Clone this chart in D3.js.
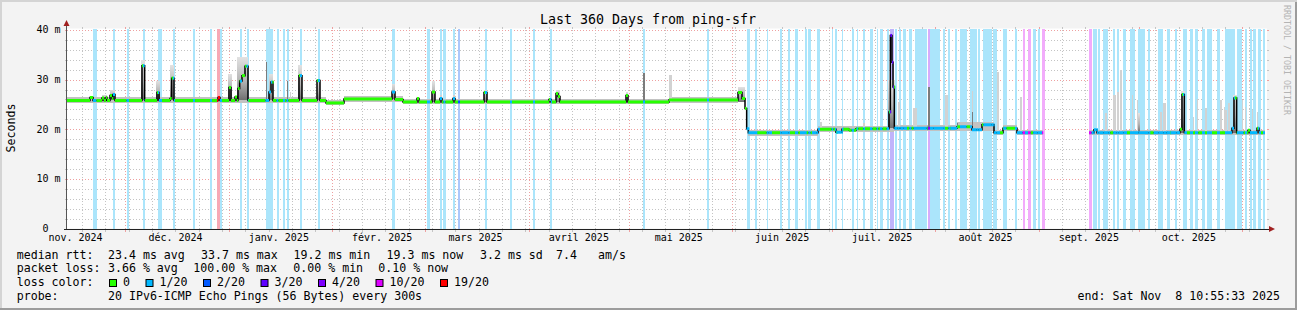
<!DOCTYPE html>
<html>
<head>
<meta charset="utf-8">
<script src="https://cdn.jsdelivr.net/npm/d3@7"></script>
<style>
  body { margin: 0; background: #f3f3f3; }
  text { font-family: "DejaVu Sans Mono", monospace; fill: #000; white-space: pre; }
</style>
</head>
<body>
<svg id="chart" width="1297" height="310"></svg>
<script>
// ---- data (days counted from the graph start, 360 days before "end") ----
const endTime = new Date(Date.UTC(2025, 10, 8, 10, 55, 33));
const spanDays = 360;

const monthNames = ["janv.", "févr.", "mars", "avril", "mai", "juin", "juil.", "août", "sept.", "oct.", "nov.", "déc."];
const yTicks = [0, 10, 20, 30, 40];
const yTickLabels = ["0  ", "10 m", "20 m", "30 m", "40 m"];

// median rtt as steps: [day, ms] -> value holds until next day; null = no data
const medianSteps = [
  [0, 25.8], [6.9, 26.4], [7.8, 25.8], [10.5, 26.3], [11.1, 25.8], [11.7, 26.4], [12.0, 25.8],
  [12.9, 26.8], [13.5, 26.2], [13.8, 27.0], [14.4, 25.8], [22.5, 32.8], [23.3, 25.8],
  [27.0, 27.4], [27.6, 25.8], [30.9, 26.2], [31.4, 30.3], [32.1, 25.8], [45.3, 26.4], [45.9, 25.8],
  [48.6, 28.4], [49.2, 25.8], [50.4, 26.5], [51.0, 25.8], [51.3, 28.2], [51.8, 29.7], [52.5, 30.8],
  [53.4, 32.7], [54.3, 25.8], [60.6, 27.5], [61.2, 29.5], [61.8, 25.8], [69.6, 30.8], [70.5, 25.8],
  [75.0, 29.8], [75.9, 25.8], [77.7, 25.3], [83.1, 26.1], [97.5, 27.5], [98.4, 26.0], [100.8, 25.5],
  [105.0, 26.2], [105.6, 25.5], [109.5, 27.5], [110.4, 25.5], [111.9, 26.2], [112.5, 25.5],
  [115.8, 26.2], [116.4, 25.5], [125.1, 27.4], [126.0, 25.5], [144.6, 26.0], [145.2, 25.5],
  [146.7, 27.2], [147.3, 26.6], [147.9, 25.5], [167.7, 26.8], [168.3, 25.5], [180.6, 25.9],
  [201.3, 27.4], [202.5, 26.2], [203.4, 24.2], [203.9, 20.1], [204.4, 19.3], [225.3, 20.0],
  [230.7, 19.4], [232.5, 20.0], [234.6, 19.8], [236.7, 20.1], [246.6, 23.5], [247.0, 38.9],
  [247.5, 33.5], [247.8, 28.5], [248.2, 20.2], [267.0, 20.5], [271.5, 19.9], [274.5, 20.9],
  [278.1, 19.3], [280.8, 20.2], [285.0, 19.3], [292.8, null], [306.6, 19.3], [308.1, 19.9],
  [309.0, 19.3], [333.9, 20.0], [334.5, 27.0], [335.2, 19.3], [349.5, 20.2], [350.1, 26.3],
  [350.9, 19.3], [354.3, 19.8], [354.9, 19.3], [357.0, 20.2], [357.6, 19.3], [359.4, null]
];

// loss background bars: [fromDay, toDay, lossClass]  (1=1/20 2=2/20 3=3/20 4=4/20 5=10/20 6=19/20)
const lossBars = [
  [7.8, 8.85, 1], [13.8, 14.4, 1], [17.85, 18.6, 1], [22.8, 23.4, 1], [27.3, 28.5, 1], [31.8, 32.4, 1],
  [37.8, 38.4, 1], [42.9, 43.5, 1], [45.0, 45.9, 6], [45.9, 46.5, 1], [51.9, 52.5, 1], [53.85, 54.45, 1],
  [59.55, 61.65, 1], [62.85, 63.45, 1], [64.8, 65.4, 1], [65.85, 66.45, 1], [69.9, 70.5, 1], [75.3, 75.9, 1],
  [97.5, 98.4, 1], [108.0, 108.9, 1], [111.9, 112.5, 1], [112.95, 113.55, 1], [115.8, 116.4, 1],
  [117.3, 117.9, 2], [125.4, 126.0, 1], [132.9, 133.5, 1], [139.8, 140.4, 1], [144.9, 145.5, 1],
  [172.8, 173.4, 1], [192.0, 192.6, 1],
  [203.9, 204.9, 1], [206.4, 207.1, 1], [209.9, 210.4, 1], [213.9, 214.4, 1], [216.4, 216.9, 1],
  [218.4, 219.4, 1], [221.4, 221.9, 1], [222.4, 223.1, 1], [224.9, 225.9, 1], [229.4, 229.9, 1],
  [230.4, 230.9, 1], [232.4, 232.9, 1], [235.4, 236.1, 1], [236.9, 237.4, 1], [238.9, 239.4, 1],
  [240.9, 241.7, 1], [242.9, 243.4, 1], [243.9, 244.7, 1], [245.9, 246.7, 1], [246.9, 248.1, 3],
  [248.4, 249.1, 1], [249.7, 250.1, 1], [250.9, 251.7, 1], [252.7, 253.4, 1], [254.4, 257.9, 1],
  [258.2, 258.9, 4], [258.9, 261.9, 1], [262.9, 263.4, 1], [264.4, 264.9, 1], [266.4, 267.1, 1],
  [267.9, 269.9, 1], [270.9, 272.9, 1], [273.4, 273.9, 1], [274.9, 277.4, 1], [277.9, 278.9, 1],
  [280.9, 281.9, 1], [284.4, 285.0, 1], [286.7, 287.4, 5], [288.3, 289.1, 5], [289.9, 290.7, 1],
  [291.2, 291.9, 1], [292.5, 293.3, 5],
  [306.6, 307.4, 5], [307.9, 308.9, 1], [309.4, 309.9, 1], [310.9, 312.4, 1], [313.9, 314.4, 1],
  [314.9, 315.5, 1], [316.9, 317.7, 1], [318.9, 320.4, 1], [321.4, 323.4, 1], [324.4, 324.9, 1],
  [327.4, 328.9, 1], [329.9, 330.9, 1], [332.4, 332.9, 1], [334.8, 336.0, 1], [336.9, 337.8, 1],
  [338.4, 339.4, 1], [340.5, 341.4, 1], [342.0, 343.5, 1], [345.0, 345.9, 1], [347.4, 350.4, 1],
  [351.0, 352.5, 1], [353.4, 354.0, 1], [354.9, 355.5, 1], [355.8, 356.7, 1], [357.3, 358.2, 1],
  [358.8, 359.4, 1]
];

// extra stretches where the median line is drawn in the 1/20 colour
const lineLoss = [
  [204.3, 207.0], [210.0, 211.5], [213.9, 216.9], [219.9, 221.7], [223.5, 225.3], [231.0, 232.8],
  [248.2, 252.0], [254.0, 258.0], [260.0, 263.0], [265.0, 267.0], [271.5, 274.5], [275.4, 279.9],
  [285.0, 289.0], [290.0, 292.8], [307.4, 313.0], [314.0, 318.0], [319.5, 325.0], [326.0, 330.0],
  [331.0, 333.9], [351.0, 353.0], [355.0, 357.0]
];

// smoke band around the median: [fromDay, toDay, lowMs, highMs]
const smokeBand = [
  [0, 77.7, 25.2, 26.4], [77.7, 83.1, 24.8, 25.8], [83.1, 100.8, 25.5, 26.6], [100.8, 180.6, 25.0, 26.1],
  [180.6, 201.3, 25.3, 26.5], [204.4, 225.3, 18.7, 19.9], [225.3, 248.2, 19.5, 20.7],
  [248.2, 267.0, 19.6, 20.9], [267.0, 278.1, 19.6, 21.5], [278.1, 280.8, 18.8, 19.9],
  [280.8, 285.0, 19.6, 20.8], [285.0, 292.8, 18.8, 19.9], [306.6, 359.4, 18.8, 19.9]
];

// smoke spikes: [fromDay, toDay, baseMs, topMs, shade]  l=light m=graded d=dark
const smokeSpikes = [
  [10.5, 12.0, 25.8, 26.8, "l"], [12.9, 14.4, 25.8, 28.0, "m"], [22.2, 23.4, 25.8, 34.0, "m"],
  [26.7, 27.9, 25.8, 29.8, "m"], [30.9, 32.1, 25.8, 32.9, "m"], [48.3, 49.5, 25.8, 31.2, "m"],
  [51.0, 54.3, 25.8, 34.5, "m"], [59.6, 59.9, 25.8, 33.5, "d"], [60.6, 61.8, 25.8, 31.2, "m"],
  [66.0, 66.3, 25.8, 29.8, "d"], [66.9, 67.2, 25.8, 27.5, "l"], [69.3, 70.5, 25.8, 32.9, "m"],
  [75.0, 75.9, 25.8, 30.0, "m"], [97.5, 98.4, 26.0, 29.2, "m"], [109.5, 110.4, 25.5, 29.7, "m"],
  [111.9, 112.5, 25.5, 26.8, "l"], [115.8, 116.4, 25.5, 27.0, "l"], [125.1, 126.0, 25.5, 28.0, "m"],
  [146.7, 147.9, 25.5, 28.0, "m"], [167.7, 168.3, 25.5, 27.5, "m"], [172.8, 173.4, 25.5, 31.3, "d"],
  [180.6, 181.5, 25.5, 31.0, "l"], [201.3, 203.4, 25.5, 28.5, "m"],
  [225.9, 226.5, 20.0, 21.5, "l"], [238.8, 239.4, 20.1, 21.3, "l"], [246.3, 248.4, 20.2, 30.0, "m"],
  [249.3, 249.9, 20.2, 25.5, "l"], [253.8, 255.0, 20.2, 24.2, "l"], [258.3, 258.9, 20.2, 28.6, "d"],
  [263.4, 264.3, 20.2, 26.8, "l"], [267.0, 267.3, 20.5, 21.2, "d"], [271.5, 271.8, 19.9, 27.8, "l"],
  [271.5, 271.8, 19.9, 23.5, "d"], [279.0, 279.6, 19.3, 31.5, "l"], [285.9, 286.5, 19.3, 26.5, "l"],
  [311.4, 312.0, 19.3, 23.2, "l"], [313.8, 314.7, 19.3, 26.8, "l"], [315.0, 315.6, 19.3, 27.5, "l"],
  [315.9, 316.5, 19.3, 31.9, "l"], [319.5, 319.8, 19.3, 26.8, "l"], [321.0, 321.3, 19.3, 25.8, "l"],
  [321.3, 321.9, 19.3, 23.2, "m"], [327.9, 328.5, 19.3, 23.5, "l"], [328.8, 329.7, 19.3, 25.2, "l"],
  [334.2, 335.4, 19.3, 27.8, "m"], [337.8, 338.1, 19.3, 22.5, "l"], [339.0, 339.3, 19.3, 26.0, "l"],
  [341.4, 342.0, 19.3, 24.2, "l"], [345.9, 346.5, 19.3, 25.8, "l"], [347.1, 347.4, 19.3, 24.5, "l"],
  [347.4, 348.0, 19.3, 23.8, "l"], [348.3, 348.9, 19.3, 25.2, "l"], [349.8, 351.0, 19.3, 27.0, "m"],
  [352.5, 352.8, 19.3, 25.8, "l"], [353.4, 353.7, 19.3, 24.5, "l"], [355.5, 355.8, 19.3, 23.8, "l"],
  [357.0, 357.3, 19.3, 23.5, "l"]
];

const lossLegend = ["0", "1/20", "2/20", "3/20", "4/20", "10/20", "19/20"];
const lossColors = ["#26ff00", "#00b8ff", "#0059ff", "#5e00ff", "#7e00ff", "#dd00ff", "#ff0000"];
const lossBgColors = [null, "#abe5fb", "#abc8fb", "#c0b4fb", "#d6acfb", "#f2abfb", "#f7a9b5"];
const rttStats = ["23.4 ms avg", "33.7 ms max", "19.2 ms min", "19.3 ms now", "3.2 ms sd", "7.4", "am/s"];
const lossStats = ["3.66 % avg", "100.00 % max", "0.00 % min", "0.10 % now"];

// ---- scales ----
const startTime = new Date(+endTime - spanDays * 864e5);
const dayDate = d => new Date(+startTime + d * 864e5);
const X0 = 67, X1 = 1267, Y0 = 228.5, Y1 = 28.5;
const x = d3.scaleTime().domain([startTime, endTime]).range([X0, X1]);
const y = d3.scaleLinear().domain([0, 40.3]).range([Y0, Y1]);
const xd = d => x(dayDate(d));

const svg = d3.select("#chart");

// background with shaded frame
svg.append("rect").attr("width", 1297).attr("height", 310).attr("fill", "#f3f3f3");
svg.append("path").attr("d", "M0,0H1297V2H2V310H0Z").attr("fill", "#d4d4d4");
svg.append("path").attr("d", "M1297,0V310H0V308H1295V2H1297Z").attr("fill", "#9c9c9c");
svg.append("rect").attr("x", X0).attr("y", Y1).attr("width", X1 - X0).attr("height", Y0 - Y1).attr("fill", "#fff");

// ---- grid ----
const grid = svg.append("g").attr("shape-rendering", "crispEdges");
const minorCol = "#c4c4c4", majorCol = "#eea0a0";
function vGrid(t, col) {
  const xx = Math.round(x(t)) + 0.5;
  grid.append("line").attr("x1", xx).attr("x2", xx).attr("y1", Y0).attr("y2", Y1)
    .attr("stroke", col).attr("stroke-dasharray", "1,2");
  grid.append("line").attr("x1", xx).attr("x2", xx).attr("y1", Y1 - 2).attr("y2", Y1).attr("stroke", col);
  grid.append("line").attr("x1", xx).attr("x2", xx).attr("y1", Y0).attr("y2", Y0 + 3).attr("stroke", col);
}
function hGrid(v, col) {
  const yy = Math.round(y(v)) + 0.5;
  grid.append("line").attr("x1", X0).attr("x2", X1).attr("y1", yy).attr("y2", yy)
    .attr("stroke", col).attr("stroke-dasharray", "1,2");
  grid.append("line").attr("x1", X0 - 2).attr("x2", X0).attr("y1", yy).attr("y2", yy).attr("stroke", col);
  grid.append("line").attr("x1", X1).attr("x2", X1 + 2).attr("y1", yy).attr("y2", yy).attr("stroke", col);
}
d3.utcMonday.range(startTime, endTime).forEach(t => { if (t.getUTCDate() !== 1) vGrid(t, minorCol); });
d3.range(2, 41, 2).filter(v => v % 10 !== 0).forEach(v => hGrid(v, minorCol));
d3.utcMonth.range(startTime, endTime).forEach(t => vGrid(t, majorCol));
yTicks.filter(v => v > 0).forEach(v => hGrid(v, majorCol));

// ---- loss background ----
svg.append("g").attr("shape-rendering", "crispEdges")
  .selectAll("rect").data(lossBars).join("rect")
  .attr("x", d => Math.round(xd(d[0])))
  .attr("width", d => Math.max(1, Math.round(xd(d[1])) - Math.round(xd(d[0]))))
  .attr("y", Y1).attr("height", Y0 - Y1)
  .attr("fill", d => lossBgColors[d[2]]);

// ---- smoke ----
const defs = svg.append("defs");
const grad = defs.append("linearGradient").attr("id", "smokeGrad").attr("x1", 0).attr("x2", 0).attr("y1", 0).attr("y2", 1);
grad.append("stop").attr("offset", "0%").attr("stop-color", "#e2e2e2");
grad.append("stop").attr("offset", "55%").attr("stop-color", "#b4b4b4");
grad.append("stop").attr("offset", "100%").attr("stop-color", "#6e6e6e");
const shadeFill = { l: "#d2d2d2", m: "url(#smokeGrad)", d: "#7c7c7c" };

svg.append("g").attr("shape-rendering", "crispEdges")
  .selectAll("rect").data(smokeBand).join("rect")
  .attr("x", d => xd(d[0])).attr("width", d => xd(d[1]) - xd(d[0]))
  .attr("y", d => y(d[3])).attr("height", d => y(d[2]) - y(d[3]))
  .attr("fill", "#c2c2c2");

svg.append("g").attr("shape-rendering", "crispEdges")
  .selectAll("rect").data(smokeSpikes).join("rect")
  .attr("x", d => Math.round(xd(d[0])))
  .attr("width", d => Math.max(1, Math.round(xd(d[1])) - Math.round(xd(d[0]))))
  .attr("y", d => y(d[3])).attr("height", d => y(d[2]) - y(d[3]))
  .attr("fill", d => shadeFill[d[4]]);

// ---- median line ----
const pts = [];
medianSteps.forEach((s, i) => {
  const next = medianSteps[i + 1];
  if (s[1] == null || !next) { pts.push(null); return; }
  pts.push([s[0], s[1]], [next[0], s[1]]);
});
svg.append("path")
  .attr("d", d3.line().defined(p => p).x(p => xd(p[0])).y(p => y(p[1]))(pts))
  .attr("fill", "none").attr("stroke", "#000").attr("stroke-width", 1.5);

// coloured median by loss
function lossClassAt(d) {
  let c = lineLoss.some(r => d >= r[0] && d < r[1]) ? 1 : 0;
  lossBars.forEach(b => { if (d >= b[0] && d < b[1]) c = Math.max(c, b[2]); });
  return c;
}
const edges = [...lossBars.flatMap(b => [b[0], b[1]]), ...lineLoss.flatMap(r => [r[0], r[1]])];
const colored = [];
medianSteps.forEach((s, i) => {
  const next = medianSteps[i + 1];
  if (s[1] == null || !next) return;
  const cuts = [s[0], ...edges.filter(e => e > s[0] && e < next[0]), next[0]].sort((a, b) => a - b);
  for (let k = 0; k < cuts.length - 1; k++) {
    if (cuts[k + 1] - cuts[k] < 1e-6) continue;
    colored.push({ a: cuts[k], b: cuts[k + 1], v: s[1], c: lossClassAt((cuts[k] + cuts[k + 1]) / 2) });
  }
});
svg.append("g")
  .selectAll("rect").data(colored).join("rect")
  .attr("x", d => xd(d.a)).attr("width", d => Math.max(1.2, xd(d.b) - xd(d.a)))
  .attr("y", d => y(d.v) - 1.5).attr("height", 3)
  .attr("fill", d => lossColors[d.c]);

// ---- axes ----
const axes = svg.append("g").attr("shape-rendering", "crispEdges");
axes.append("line").attr("x1", X0 - 0.5).attr("x2", X0 - 0.5).attr("y1", Y0 + 0.5).attr("y2", 22).attr("stroke", "#555");
axes.append("line").attr("x1", X0 - 3).attr("x2", X1 + 4).attr("y1", Y0 + 0.5).attr("y2", Y0 + 0.5).attr("stroke", "#222");
svg.append("path").attr("d", `M${X0 - 3.5},26 L${X0 + 2.5},26 L${X0 - 0.5},20 Z`).attr("fill", "#a02020");
svg.append("path").attr("d", `M${X1 + 2},${Y0 - 2.5} L${X1 + 2},${Y0 + 3.5} L${X1 + 8},${Y0 + 0.5} Z`).attr("fill", "#a02020");

// y labels
svg.append("g").selectAll("text").data(yTicks).join("text")
  .attr("x", 60.5).attr("y", v => y(v) + 3.5)
  .attr("text-anchor", "end").attr("xml:space", "preserve").attr("font-size", "10px")
  .text((v, i) => yTickLabels[i]);

// month labels, centred half a month after the month start
const monthStarts = d3.utcMonth.range(d3.utcMonth.floor(startTime), endTime);
svg.append("g").selectAll("text")
  .data(monthStarts.filter(t => d3.utcDay.offset(t, 15) <= endTime))
  .join("text")
  .attr("x", t => x(d3.utcDay.offset(t, 15))).attr("y", 241)
  .attr("text-anchor", "middle").attr("font-size", "10px")
  .text(t => monthNames[t.getUTCMonth()] + " " + t.getUTCFullYear());

// title and side labels
svg.append("text").attr("x", 648).attr("y", 24).attr("text-anchor", "middle")
  .attr("font-size", "13.3px").text("Last 360 Days from ping-sfr");
svg.append("text").attr("transform", "translate(14.5,128) rotate(-90)").attr("text-anchor", "middle")
  .attr("font-size", "11.6px").text("Seconds");
svg.append("text").attr("transform", "translate(1284,5) rotate(90)").attr("text-anchor", "start")
  .attr("font-size", "8.3px").style("fill", "#b4b4b4").text("RRDTOOL / TOBI OETIKER");

// ---- legend ----
const leg = svg.append("g").attr("font-size", "11.6px");
const rowY = [258.5, 272, 286, 300];
const put = (tx, xx, yy, anchor) => leg.append("text").attr("x", xx).attr("y", yy)
  .attr("xml:space", "preserve").attr("text-anchor", anchor || "start").text(tx);
put("median rtt:", 16.7, rowY[0]);
const rttX = [108, 201, 293.5, 386.5, 480, 556, 598];
rttStats.forEach((s, i) => put(s, rttX[i], rowY[0]));
put("packet loss:", 16.7, rowY[1]);
const lossX = [108, 193.3, 293.3, 378.3];
lossStats.forEach((s, i) => put(s, lossX[i], rowY[1]));
put("loss color:", 16.7, rowY[2]);
let cx = 109;
lossLegend.forEach((lab, i) => {
  leg.append("rect").attr("x", cx + 0.5).attr("y", rowY[2] - 6.5).attr("width", 7).attr("height", 7)
    .attr("fill", lossColors[i]).attr("stroke", "#000").attr("stroke-width", 1);
  put(lab, cx + 14, rowY[2]);
  cx += 14 + lab.length * 7 + 15.5;
});
put("probe:", 16.7, rowY[3]);
put("20 IPv6-ICMP Echo Pings (56 Bytes) every 300s", 108, rowY[3]);
put("end: Sat Nov  8 10:55:33 2025", 1280, rowY[3], "end");
</script>
</body>
</html>
